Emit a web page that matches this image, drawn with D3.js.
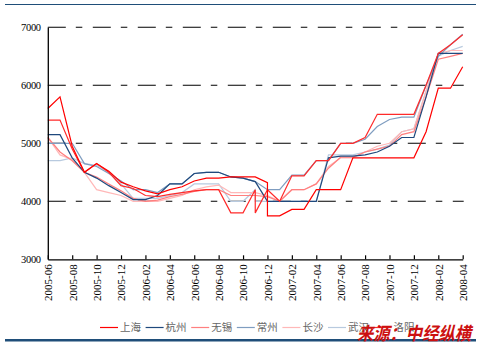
<!DOCTYPE html>
<html><head><meta charset="utf-8">
<script src="https://cdn.jsdelivr.net/npm/d3@7"></script>
<style>html,body{margin:0;padding:0;background:#fff;}svg{display:block;}</style>
</head><body>
<svg id="c" width="481" height="347"></svg>
<script>
const months = ["2005-06","2005-07","2005-08","2005-09","2005-10","2005-11","2005-12","2006-01","2006-02","2006-03","2006-04","2006-05","2006-06","2006-07","2006-08","2006-09","2006-10","2006-11","2006-12","2007-01","2007-02","2007-03","2007-04","2007-05","2007-06","2007-07","2007-08","2007-09","2007-10","2007-11","2007-12","2008-01","2008-02","2008-03","2008-04"];
const tickLabels = ["2005-06","2005-08","2005-10","2005-12","2006-02","2006-04","2006-06","2006-08","2006-10","2006-12","2007-02","2007-04","2007-06","2007-08","2007-10","2007-12","2008-02","2008-04"];
const yTicks = [3000,4000,5000,6000,7000];
const cities = ["上海","杭州","无锡","常州","长沙","武汉","洛阳"];
const colors = ["#ff0000","#1f497d","#ff7f7f","#7f9dc0","#ffb8b8","#b8cadf","#ff2a2a"];
// [a,b] = value moves from a to b within the month (vertical step)
const shanghai = [5600,5800,4950,4500,4650,4520,4330,4250,4180,4130,4200,4250,4350,4400,4400,4420,4420,4420,[4320,3750],3750,3860,3860,4200,4200,4200,4750,4750,4750,4750,4750,4750,5200,5950,5950,6320];
const hangzhou = [5150,5150,4750,4500,4400,4270,4150,4030,4030,4100,4300,4300,4480,4500,4500,4420,4400,4340,4000,4000,4000,4000,4000,4750,4780,4780,4800,4850,4950,5100,5100,5800,6550,6550,6550];
const wuxi = [5100,4850,4700,4500,4420,4300,4180,4050,4000,4020,4080,4120,4170,4200,4200,4100,4100,4100,4080,4000,4200,4200,4300,4570,4760,4760,4850,4900,4950,5150,5200,5800,6450,6500,6550];
const changzhou = [5000,5000,5000,4650,4600,4480,4350,4200,4200,4150,4300,4300,4480,4500,4500,4420,4400,4340,4200,4200,4450,4450,4700,4700,5000,5000,5070,5290,5410,5450,5450,6000,6500,6700,6880];
const changsha = [5100,4800,4720,4500,4200,4150,4100,4000,4000,4000,4050,4100,4200,4250,4280,4150,4150,4150,4100,4000,4200,4200,4300,4600,4750,4750,4850,4950,5000,5200,5250,5900,6550,6600,6600];
const wuhan = [4700,4700,4750,4650,4620,4500,4300,4050,4050,4050,4100,4150,4300,4300,4300,4000,4000,[4200,4000],4000,4000,4000,4000,4000,4800,4800,4800,4850,4900,4970,5200,5250,5900,6500,6600,6670];
const luoyang = [5400,5400,4900,4500,4650,4500,4270,4220,4100,4080,4120,4150,4180,4200,4200,3800,3800,[4200,3800],4200,4000,4440,4440,4700,4700,5000,5000,5100,5500,5500,5500,5500,6000,6550,6700,6870];
const seriesValues = [shanghai,hangzhou,wuxi,changzhou,changsha,wuhan,luoyang];
const source = "来源：中经纵横";

const svg = d3.select("#c");
const L = 47.8, R = 462.7, T = 27.3, B = 259.3;
const x = d3.scalePoint().domain(months).range([L, R]);
const y = d3.scaleLinear().domain([3000, 7000]).range([B, T]);

// decorative rules
svg.append("line").attr("x1",5).attr("x2",476).attr("y1",4.5).attr("y2",4.5).attr("stroke","#1f4e79").attr("stroke-width",1.2);
svg.append("line").attr("x1",5).attr("x2",476).attr("y1",340.3).attr("y2",340.3).attr("stroke","#1f4e79").attr("stroke-width",2.4);

// gridlines
svg.append("g").selectAll("line").data(yTicks.filter(v => v > 3000)).join("line")
  .attr("x1", L).attr("x2", R + 1).attr("y1", d => y(d)).attr("y2", d => y(d))
  .attr("stroke", "#000").attr("stroke-width", 1.1).attr("stroke-dasharray", "18,10,6.5,10.5");

// series
const line = d3.line().x(d => d[0]).y(d => d[1]);
const drawOrder = [5,4,2,3,1,6,0];
drawOrder.forEach(k => {
  const pts = [];
  seriesValues[k].forEach((v, i) => {
    const xx = x(months[i]);
    if (Array.isArray(v)) v.forEach(u => pts.push([xx, y(u)]));
    else pts.push([xx, y(v)]);
  });
  svg.append("path").attr("d", line(pts)).attr("fill", "none")
    .attr("stroke", colors[k]).attr("stroke-width", 1.2).attr("stroke-linejoin", "miter");
});

// y axis
const yAxis = svg.append("g").attr("transform", `translate(${L},0)`)
  .call(d3.axisLeft(y).tickValues(yTicks).tickSize(0).tickPadding(7).tickFormat(d3.format("d")));
yAxis.select(".domain").attr("stroke", "#000").attr("stroke-width", 1.3);
yAxis.selectAll("text").attr("font-family", "'Liberation Serif', serif").attr("font-size", 10.5)
  .attr("fill", "#000").attr("letter-spacing", "-0.3px");

// x axis
const xAxis = svg.append("g").attr("transform", `translate(0,${B})`)
  .call(d3.axisBottom(x).tickValues(tickLabels).tickSizeInner(-4).tickSizeOuter(0));
xAxis.select(".domain").attr("stroke", "#000").attr("stroke-width", 1.3);
xAxis.selectAll(".tick line").attr("stroke", "#000").attr("stroke-width", 1.2);
xAxis.selectAll("text")
  .attr("font-family", "'Liberation Serif', serif").attr("font-size", 11).attr("fill", "#000")
  .attr("transform", "rotate(-90)").attr("text-anchor", "end")
  .attr("x", -5).attr("y", 0).attr("dy", "0.35em");

// legend
const lg = svg.append("g");
cities.forEach((c, k) => {
  const x0 = 100 + k * 45.6;
  lg.append("line").attr("x1", x0).attr("x2", x0 + 18).attr("y1", 327.5).attr("y2", 327.5)
    .attr("stroke", colors[k]).attr("stroke-width", 1.2);
  lg.append("text").attr("x", x0 + 20).attr("y", 327.5).attr("dy", "0.36em")
    .attr("font-family", "'Noto Sans CJK SC', sans-serif").attr("font-size", 10.5)
    .attr("fill", "#666").text(c);
});

// source watermark
svg.append("text").attr("x", 357).attr("y", 340).text(source)
  .attr("font-family", "'Noto Sans CJK SC', sans-serif").attr("font-size", 18)
  .attr("textLength", 114).attr("lengthAdjust", "spacingAndGlyphs")
  .attr("font-weight", "bold").attr("font-style", "italic").attr("fill", "#cc1010");
</script>
</body></html>
